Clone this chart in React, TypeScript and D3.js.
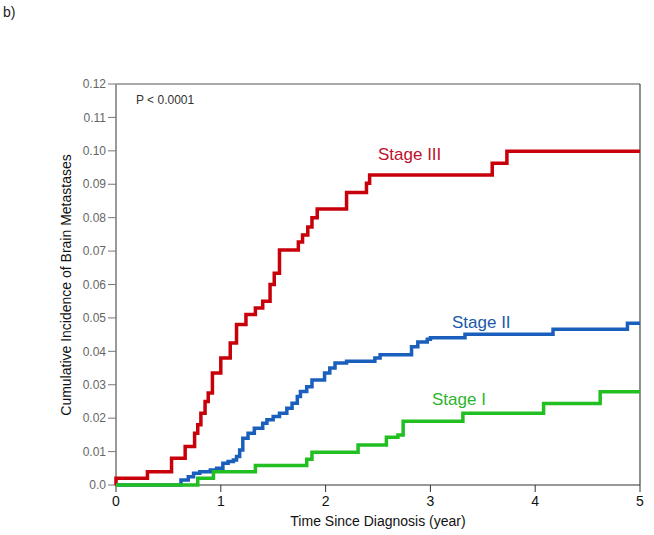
import React from "react";
import * as d3 from "d3";

const yTicks = [0, 0.01, 0.02, 0.03, 0.04, 0.05, 0.06, 0.07, 0.08, 0.09, 0.1, 0.11, 0.12];
const yTickLabels = ["0.0", "0.01", "0.02", "0.03", "0.04", "0.05", "0.06", "0.07", "0.08", "0.09", "0.10", "0.11", "0.12"];
const xTicks = [0, 1, 2, 3, 4, 5];

const stage3T = [0, 0, 0.3, 0.53, 0.66, 0.75, 0.78, 0.81, 0.85, 0.88, 0.92, 1.0, 1.09, 1.15, 1.24, 1.33, 1.4, 1.47, 1.51, 1.56, 1.74, 1.78, 1.83, 1.87, 1.92, 2.2, 2.39, 2.42, 3.59, 3.73, 5];
const stage3V = [0, 0.002, 0.004, 0.008, 0.0115, 0.0155, 0.018, 0.0215, 0.025, 0.0275, 0.0335, 0.038, 0.0425, 0.048, 0.051, 0.053, 0.055, 0.06, 0.0634, 0.0703, 0.0727, 0.0748, 0.0772, 0.08, 0.0826, 0.0875, 0.0903, 0.0928, 0.0963, 0.0999, 0.0999];

const stage2T = [0, 0.62, 0.69, 0.74, 0.8, 0.9, 0.96, 1.02, 1.07, 1.12, 1.15, 1.18, 1.21, 1.26, 1.32, 1.4, 1.44, 1.5, 1.56, 1.63, 1.68, 1.73, 1.76, 1.82, 1.87, 1.99, 2.04, 2.09, 2.2, 2.47, 2.52, 2.82, 2.88, 2.97, 3.0, 3.33, 4.17, 4.88, 5];
const stage2V = [0, 0.0015, 0.0025, 0.0035, 0.004, 0.0045, 0.005, 0.0065, 0.007, 0.0075, 0.0085, 0.0105, 0.014, 0.0155, 0.017, 0.0185, 0.0195, 0.0205, 0.0215, 0.023, 0.0245, 0.0265, 0.028, 0.0294, 0.0314, 0.0335, 0.035, 0.0365, 0.037, 0.038, 0.039, 0.0414, 0.0428, 0.0436, 0.0441, 0.0451, 0.0466, 0.0484, 0.0484];

const stage1T = [0, 0.78, 0.93, 1.33, 1.82, 1.87, 2.31, 2.58, 2.69, 2.74, 3.31, 4.08, 4.62, 5];
const stage1V = [0, 0.002, 0.004, 0.0058, 0.0077, 0.0098, 0.012, 0.0143, 0.015, 0.0191, 0.0215, 0.0244, 0.0279, 0.0279];

const seriesNames = ["Stage III", "Stage II", "Stage I"];

export default function App() {
  const W = 654, H = 535;
  const x = d3.scaleLinear().domain([0, 5]).range([116, 640]);
  const y = d3.scaleLinear().domain([0, 0.12]).range([485, 84]);
  const line = d3
    .line<[number, number]>()
    .x((d) => x(d[0]))
    .y((d) => y(d[1]))
    .curve(d3.curveStepAfter);

  const mk = (t: number[], v: number[]) => t.map((tt, i) => [tt, v[i]] as [number, number]);
  const series = [
    { name: seriesNames[0], data: mk(stage3T, stage3V), color: "#c8000a", text: "#c0102a", lx: 378, ly: 160 },
    { name: seriesNames[1], data: mk(stage2T, stage2V), color: "#1b5fbd", text: "#1a5aa8", lx: 452, ly: 328 },
    { name: seriesNames[2], data: mk(stage1T, stage1V), color: "#22bf22", text: "#2cb52c", lx: 432, ly: 405 },
  ];

  const font = "'Liberation Sans', Arial, sans-serif";

  return (
    <svg width={W} height={H} style={{ position: "absolute", left: 0, top: 0, background: "#fff" }} fontFamily={font}>
      <rect x={0} y={0} width={W} height={H} fill="#fff" />
      <text x={3} y={17} fontSize={14} fill="#222">b)</text>

      {/* frame */}
      <line x1={116} x2={640} y1={84} y2={84} stroke="#555" strokeWidth={1.2} />
      <line x1={640} x2={640} y1={84} y2={485} stroke="#444" strokeWidth={1.2} />
      <line x1={116} x2={640} y1={485} y2={485} stroke="#333" strokeWidth={1.2} />
      <line x1={116} x2={116} y1={84} y2={486} stroke="#999" strokeWidth={2} />

      {yTicks.map((t, i) => (
        <g key={"y" + i}>
          <line x1={108} x2={116} y1={y(t)} y2={y(t)} stroke="#777" strokeWidth={1} />
          <text x={106} y={y(t)} dy="0.35em" textAnchor="end" fontSize={12} fill="#666">
            {yTickLabels[i]}
          </text>
        </g>
      ))}
      {xTicks.map((t) => (
        <g key={"x" + t}>
          <line x1={x(t)} x2={x(t)} y1={485} y2={492} stroke="#333" strokeWidth={1} />
          <text x={x(t)} y={506} textAnchor="middle" fontSize={14} fill="#111">
            {t}
          </text>
        </g>
      ))}

      <text x={378} y={526} textAnchor="middle" fontSize={14} fill="#111">
        Time Since Diagnosis (year)
      </text>
      <text
        transform={`translate(71,285) rotate(-90)`}
        textAnchor="middle"
        fontSize={14}
        fill="#111"
      >
        Cumulative Incidence of Brain Metastases
      </text>

      <text x={136} y={104} fontSize={12} fill="#333">P &lt; 0.0001</text>

      {series.map((s) => (
        <g key={s.name}>
          <path d={line(s.data) || ""} fill="none" stroke={s.color} strokeWidth={3.5} />
          <text x={s.lx} y={s.ly} fontSize={17} fill={s.text}>
            {s.name}
          </text>
        </g>
      ))}
    </svg>
  );
}
